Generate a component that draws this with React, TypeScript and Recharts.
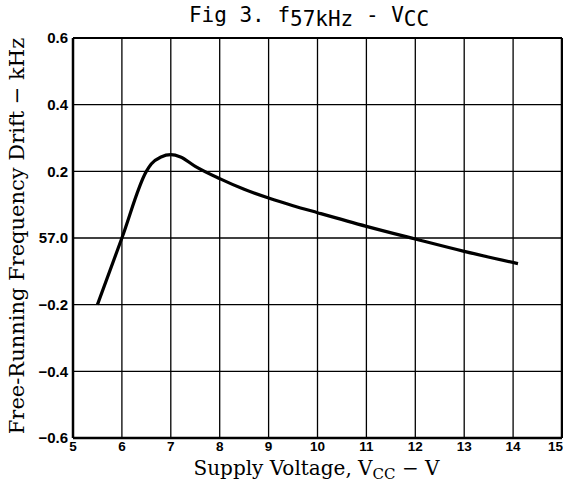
import React from "react";
import { LineChart, Line, XAxis, YAxis, CartesianGrid, ReferenceLine } from "recharts";

const voltages = [5.5, 6.0, 6.5, 6.6, 6.8, 7.0, 7.2, 7.5, 8.0, 8.5, 9.0, 9.5, 10, 11, 12, 13, 14.1];
const drift = [-0.2, 0.0, 0.2, 0.222, 0.243, 0.25, 0.243, 0.215, 0.178, 0.146, 0.12, 0.097, 0.076, 0.035, -0.003, -0.04, -0.077];
const xTicks = [5, 6, 7, 8, 9, 10, 11, 12, 13, 14, 15];
const yTicks = [-0.6, -0.4, -0.2, 0, 0.2, 0.4, 0.6];
const yTickLabels = ["\u22120.6", "\u22120.4", "\u22120.2", "57.0", "0.2", "0.4", "0.6"];

const data = voltages.map((v, i) => ({ v, d: drift[i] }));

const tickFont = "'Liberation Sans Narrow', 'Liberation Sans', Arial, sans-serif";
const tickStyle = { fontFamily: tickFont, fontWeight: 700, fontSize: 15, fill: "#000" };
const serif = "'DejaVu Serif', 'Liberation Serif', serif";

const XTick = (props: any) => {
  const { x, y, payload } = props;
  const last = payload.value === xTicks[xTicks.length - 1];
  return (
    <text
      x={last ? 563 : x}
      y={y}
      dy="0.71em"
      textAnchor={last ? "end" : "middle"}
      fontFamily={tickFont}
      fontWeight={700}
      fontSize={13.5}
      fill="#000"
    >
      {payload.value}
    </text>
  );
};

const XLabel = (props: any) => {
  const vb = props.viewBox || {};
  const cx = vb.x + vb.width / 2 - 1;
  return (
    <text x={cx} y={475} textAnchor="middle" fontFamily={serif} fontSize={20} fill="#000">
      Supply Voltage, V<tspan fontSize={15} dy={4}>CC</tspan><tspan dy={-4}> {"\u2212"} V</tspan>
    </text>
  );
};

const YLabel = (props: any) => {
  const vb = props.viewBox || {};
  const cy = vb.y + vb.height / 2 - 2;
  return (
    <text x={0} y={0} transform={`translate(24, ${cy}) rotate(-90)`} textAnchor="middle" fontFamily={serif} fontSize={21} fill="#000">
      Free-Running Frequency Drift {"\u2212"} kHz
    </text>
  );
};

export default function App() {
  return (
    <div style={{ position: "absolute", left: 0, top: 0, width: 563, height: 483, background: "#fff", overflow: "hidden" }}>
      <div
        style={{
          position: "absolute",
          left: 0,
          width: 618,
          top: 2,
          textAlign: "center",
          fontFamily: "'DejaVu Sans Mono', 'Liberation Mono', monospace",
          fontSize: 21,
          color: "#000",
          lineHeight: "26px",
          whiteSpace: "nowrap",
          zIndex: 1,
        }}
      >
        Fig 3. f<span style={{ position: "relative", top: 4 }}>57kHz</span> - V<span style={{ position: "relative", top: 4 }}>CC</span>
      </div>
      <LineChart width={563} height={483} data={data} margin={{ top: 38, right: 1, bottom: 20, left: 0 }}>
        <CartesianGrid stroke="#000" strokeWidth={1.3} strokeOpacity={1} />
        <XAxis
          dataKey="v"
          type="number"
          domain={[5, 15]}
          ticks={xTicks}
          interval={0}
          height={25}
          tickSize={0}
          tickMargin={3}
          tickLine={false}
          axisLine={{ stroke: "#000", strokeWidth: 2.5 }}
          tick={<XTick />}
          allowDataOverflow
          label={<XLabel />}
        />
        <YAxis
          type="number"
          domain={[-0.6, 0.6]}
          ticks={yTicks}
          interval={0}
          width={73}
          tickSize={0}
          tickMargin={5}
          tickLine={false}
          axisLine={{ stroke: "#000", strokeWidth: 2.5 }}
          tick={tickStyle}
          tickFormatter={(val: number) => {
            const i = yTicks.findIndex((t) => Math.abs(t - val) < 1e-6);
            return i >= 0 ? yTickLabels[i] : String(val);
          }}
          allowDataOverflow
          label={<YLabel />}
        />
        <ReferenceLine x={15} stroke="#000" strokeWidth={2.5} />
        <ReferenceLine y={0.6} stroke="#000" strokeWidth={2} />
        <Line dataKey="d" type="monotone" stroke="#000" strokeWidth={3.2} dot={false} isAnimationActive={false} />
      </LineChart>
    </div>
  );
}
